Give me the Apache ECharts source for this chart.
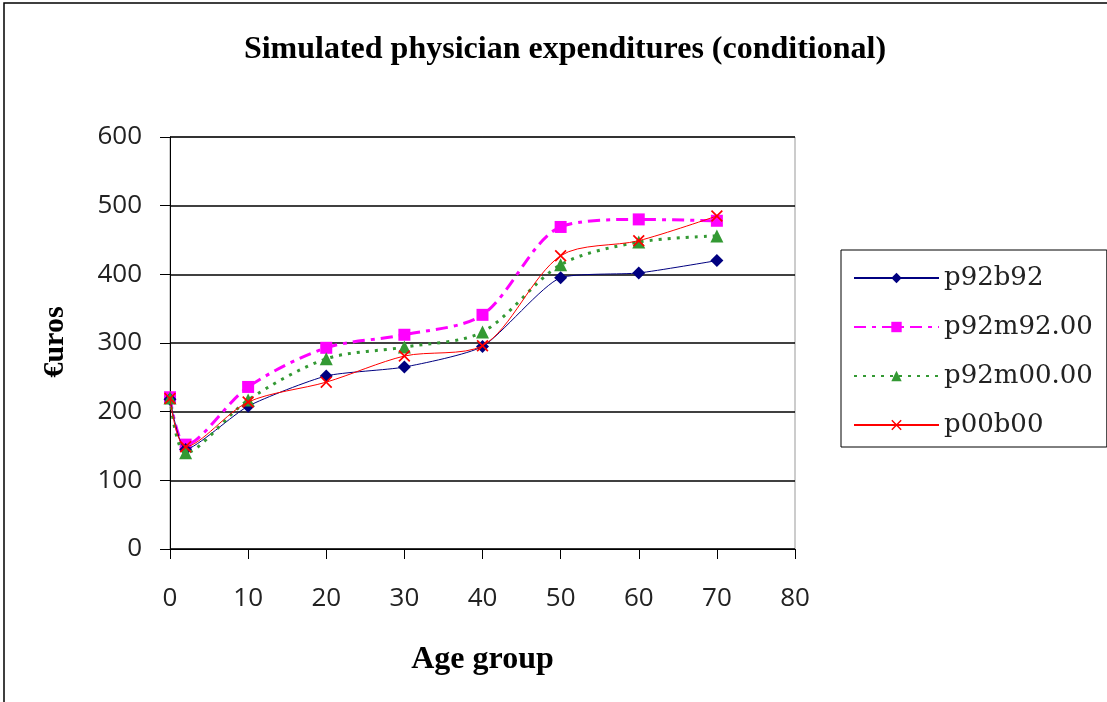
<!DOCTYPE html>
<html>
<head>
<meta charset="utf-8">
<script src="https://cdn.jsdelivr.net/npm/echarts@6/dist/echarts.min.js"></script>
<style>
  html, body { margin: 0; padding: 0; background: #fff; }
  #chart { width: 1107px; height: 702px; }
</style>
</head>
<body>
<div id="chart"></div>
<script>
// age groups on the x axis
const ages = [0, 2, 10, 20, 30, 40, 50, 60, 70];
const p92b92 = [218, 145, 208, 252, 265, 295, 395, 402, 420];
const p92m92 = [221, 152, 236, 293, 312, 341, 469, 480, 478];
const p92m00 = [220, 140, 217, 277, 294, 316, 414, 447, 456];
const p00b00 = [219, 149, 214, 243, 281, 296, 427, 449, 485];
const xTicks = [0, 10, 20, 30, 40, 50, 60, 70, 80];
const yTicks = [0, 100, 200, 300, 400, 500, 600];

function pairs(vals) {
  return ages.map((a, i) => [a, vals[i]]);
}

const crossPath = 'path://M0,1L1,0L5,4L9,0L10,1L6,5L10,9L9,10L5,6L1,10L0,9L4,5Z';
const tickFont = 'Open Sans, DejaVu Sans, sans-serif';
const serif = 'Liberation Serif, DejaVu Serif, serif';

const myChart = echarts.init(document.getElementById('chart'));
myChart.setOption({
  animation: false,
  backgroundColor: '#fff',
  title: {
    text: 'Simulated physician expenditures (conditional)',
    left: 560,
    textAlign: 'center',
    top: 29,
    textStyle: { fontFamily: serif, fontWeight: 'bold', fontSize: 32, color: '#000' },
  },
  graphic: [
    {
      type: 'rect',
      shape: { x: 4, y: 3, width: 1120, height: 720 },
      style: { fill: 'none', stroke: '#000', lineWidth: 1.5 },
    },
    {
      type: 'text',
      x: 55,
      y: 342,
      rotation: Math.PI / 2,
      style: {
        text: '€uros',
        fontFamily: serif,
        fontWeight: 'bold',
        fontSize: 30,
        fill: '#000',
        align: 'center',
        verticalAlign: 'middle',
      },
    },
  ],
  grid: {
    left: 170,
    right: 312,
    top: 137,
    bottom: 153,
    show: true,
    borderColor: '#999',
    borderWidth: 1,
  },
  legend: {
    orient: 'vertical',
    left: 841,
    top: 250,
    padding: [15, 14, 9, 12],
    itemGap: 23,
    itemWidth: 85,
    itemHeight: 13,
    borderColor: '#000',
    borderWidth: 1,
    backgroundColor: '#fff',
    textStyle: { fontFamily: 'DejaVu Serif, serif', fontSize: 26, color: '#222', lineHeight: 24 },
    data: ['p92b92', 'p92m92.00', 'p92m00.00', 'p00b00'],
  },
  xAxis: {
    type: 'value',
    min: 0,
    max: 80,
    interval: 10,
    name: 'Age group',
    nameLocation: 'middle',
    nameGap: 95,
    nameTextStyle: { fontFamily: serif, fontWeight: 'bold', fontSize: 32, color: '#000' },
    axisLine: { show: true, onZero: false, lineStyle: { color: '#000', width: 1 } },
    axisTick: { show: true, inside: false, length: 10, lineStyle: { color: '#000' } },
    axisLabel: { margin: 37, fontFamily: tickFont, fontSize: 26, color: '#222' },
    splitLine: { show: false },
  },
  yAxis: {
    type: 'value',
    min: 0,
    max: 600,
    interval: 100,
    axisLine: { show: true, lineStyle: { color: '#000', width: 1 } },
    axisTick: { show: true, inside: false, length: 10, lineStyle: { color: '#000' } },
    axisLabel: { margin: 28, fontFamily: tickFont, fontSize: 26, color: '#222' },
    splitLine: { show: true, lineStyle: { color: '#000', width: 1.5 } },
  },
  series: [
    {
      name: 'p92b92',
      type: 'line',
      data: pairs(p92b92),
      smooth: 0.2,
      symbol: 'diamond',
      symbolSize: 13,
      lineStyle: { color: '#000080', width: 1 },
      itemStyle: { color: '#000080' },
      z: 3,
    },
    {
      name: 'p92m92.00',
      type: 'line',
      data: pairs(p92m92),
      smooth: 0.3,
      symbol: 'rect',
      symbolSize: 12,
      lineStyle: { color: '#ff00ff', width: 3, type: [12, 6, 4, 6] },
      itemStyle: { color: '#ff00ff' },
      z: 2,
    },
    {
      name: 'p92m00.00',
      type: 'line',
      data: pairs(p92m00),
      smooth: 0.3,
      symbol: 'triangle',
      symbolSize: 13,
      lineStyle: { color: '#339933', width: 3, type: [3, 6] },
      itemStyle: { color: '#339933' },
      z: 4,
    },
    {
      name: 'p00b00',
      type: 'line',
      data: pairs(p00b00),
      smooth: 0.3,
      symbol: crossPath,
      symbolSize: 12,
      lineStyle: { color: '#ff0000', width: 1 },
      itemStyle: { color: '#ff0000' },
      z: 5,
    },
  ],
});
</script>
</body>
</html>
